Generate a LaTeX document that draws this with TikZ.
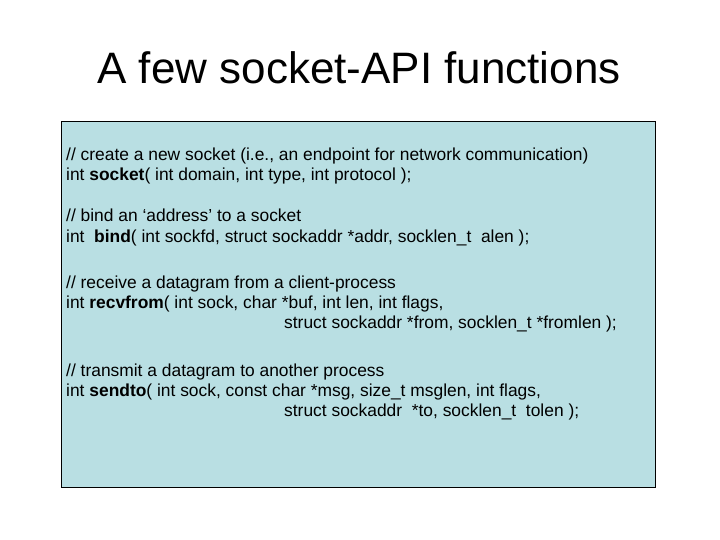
\documentclass[tikz,border=0pt]{standalone}
\usepackage{fontspec}
\setmainfont{Liberation Sans}
\begin{document}
\begin{tikzpicture}[x=1pt,y=-1pt,
  ln/.style={anchor=base west,inner sep=0pt,font=\fontsize{17.4}{19}\selectfont}]
\useasboundingbox (0,0) rectangle (720,540);
\node[anchor=base,inner sep=0pt,font=\fontsize{44}{48}\selectfont] (title) at (359,84) {A few socket-API functions};
\draw[fill={rgb,255:red,185;green,223;blue,227},line width=0.8pt] (61,121) rectangle (655,487);
\node[ln] (l1) at (66,161) {// create a new socket (i.e., an endpoint for network communication)};
\node[ln] (l2) at (66,181) {int \textbf{socket}( int domain, int type, int protocol );};
\node[ln] (l3) at (66,222) {// bind an ‘address’ to a socket};
\node[ln] (l4) at (66,242) {int \ \textbf{bind}( int sockfd, struct sockaddr *addr, socklen\_t \ alen );};
\node[ln] (l5) at (66,288) {// receive a datagram from a client-process};
\node[ln] (l6) at (66,308) {int \textbf{recvfrom}( int sock, char *buf, int len, int flags,};
\node[ln] (l7) at (284,328) {struct sockaddr *from, socklen\_t *fromlen );};
\node[ln] (l8) at (66,376) {// transmit a datagram to another process};
\node[ln] (l9) at (66,396) {int \textbf{sendto}( int sock, const char *msg, size\_t msglen, int flags,};
\node[ln] (l10) at (284,416) {struct sockaddr \ *to, socklen\_t \ tolen );};
\end{tikzpicture}
\end{document}
